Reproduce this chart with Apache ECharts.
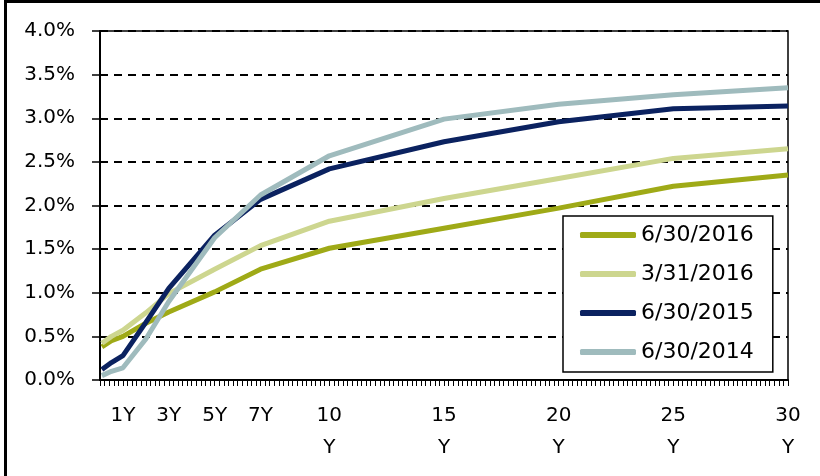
<!DOCTYPE html>
<html>
<head>
<meta charset="utf-8">
<script src="https://cdn.jsdelivr.net/npm/echarts@6/dist/echarts.min.js"></script>
<style>
  html, body { margin: 0; padding: 0; background: #fff; }
  #chart { width: 820px; height: 476px; }
</style>
</head>
<body>
<div id="chart"></div>
<script>
  // maturities in years (1M, 6M, 1Y ... 30Y)
  const maturities = [0.083, 0.5, 1, 2, 3, 5, 7, 10, 15, 20, 25, 30];
  const xLabelValues = [1, 3, 5, 7, 10, 15, 20, 25, 30];
  const yTicks = [0, 0.5, 1, 1.5, 2, 2.5, 3, 3.5, 4];

  const seriesNames = ['6/30/2016', '3/31/2016', '6/30/2015', '6/30/2014'];
  const jun2016 = [0.38, 0.45, 0.50, 0.65, 0.78, 1.01, 1.27, 1.51, 1.74, 1.97, 2.22, 2.35];
  const mar2016 = [0.42, 0.50, 0.57, 0.77, 0.99, 1.27, 1.54, 1.82, 2.08, 2.31, 2.54, 2.65];
  const jun2015 = [0.12, 0.20, 0.28, 0.66, 1.05, 1.66, 2.07, 2.42, 2.73, 2.96, 3.11, 3.14];
  const jun2014 = [0.05, 0.10, 0.14, 0.47, 0.90, 1.63, 2.12, 2.57, 2.99, 3.16, 3.27, 3.35];

  const colors = ['#9faa17', '#cdd68f', '#0b2260', '#9fbbbd'];
  const font = 'DejaVu Sans';

  // minor tick positions along the maturity axis
  const xTickValues = [];
  for (let i = 0; i <= 150; i++) xTickValues.push(Math.round(i * 2) / 10);

  const toPairs = (vals) => maturities.map((m, i) => [m, vals[i]]);

  const makeSeries = (name, vals, color) => ({
    name: name,
    type: 'line',
    data: toPairs(vals),
    showSymbol: false,
    symbol: 'none',
    lineStyle: { color: color, width: 5 },
    itemStyle: { color: color },
    emphasis: { disabled: true },
  });

  const chart = echarts.init(document.getElementById('chart'));
  chart.setOption({
    animation: false,
    textStyle: { fontFamily: font },
    grid: {
      left: 100,
      right: 32,
      top: 31,
      bottom: 96,
      show: true,
      borderColor: '#000',
      borderWidth: 1.5,
      backgroundColor: 'transparent',
    },
    xAxis: {
      type: 'value',
      min: 0,
      max: 30,
      axisLine: { show: true, onZero: false, lineStyle: { color: '#000', width: 2 } },
      axisTick: {
        show: true,
        customValues: xTickValues,
        length: 6,
        lineStyle: { color: '#000', width: 1 },
      },
      axisLabel: {
        customValues: xLabelValues,
        color: '#000',
        fontSize: 20,
        fontFamily: font,
        lineHeight: 32,
        margin: 20,
        formatter: (v) => (v < 10 ? v + 'Y' : v + '\nY'),
      },
      splitLine: { show: false },
    },
    yAxis: {
      type: 'value',
      min: 0,
      max: 4,
      interval: 0.5,
      axisLine: { show: true, lineStyle: { color: '#000', width: 2 } },
      axisTick: { show: true, length: 8, lineStyle: { color: '#000', width: 1.5 } },
      axisLabel: {
        color: '#000',
        fontSize: 20,
        fontFamily: font,
        margin: 25,
        formatter: (v) => v.toFixed(1) + '%',
      },
      splitLine: {
        show: true,
        lineStyle: { color: '#000', width: 1.8, type: [8, 6] },
      },
    },
    legend: {
      orient: 'vertical',
      left: 563,
      top: 216,
      data: seriesNames,
      icon: 'roundRect',
      itemWidth: 56,
      itemHeight: 6,
      itemGap: 13,
      padding: [6, 19, 7, 17],
      backgroundColor: '#fff',
      borderColor: '#000',
      borderWidth: 1.5,
      borderRadius: 0,
      textStyle: { fontSize: 22, color: '#000', fontFamily: font, lineHeight: 26 },
    },
    graphic: [
      { type: 'rect', shape: { x: 4, y: 0, width: 3, height: 476 }, style: { fill: '#000' } },
      { type: 'rect', shape: { x: 4, y: 0, width: 816, height: 3 }, style: { fill: '#000' } },
    ],
    series: [
      makeSeries(seriesNames[0], jun2016, colors[0]),
      makeSeries(seriesNames[1], mar2016, colors[1]),
      makeSeries(seriesNames[2], jun2015, colors[2]),
      makeSeries(seriesNames[3], jun2014, colors[3]),
    ],
  });
</script>
</body>
</html>
